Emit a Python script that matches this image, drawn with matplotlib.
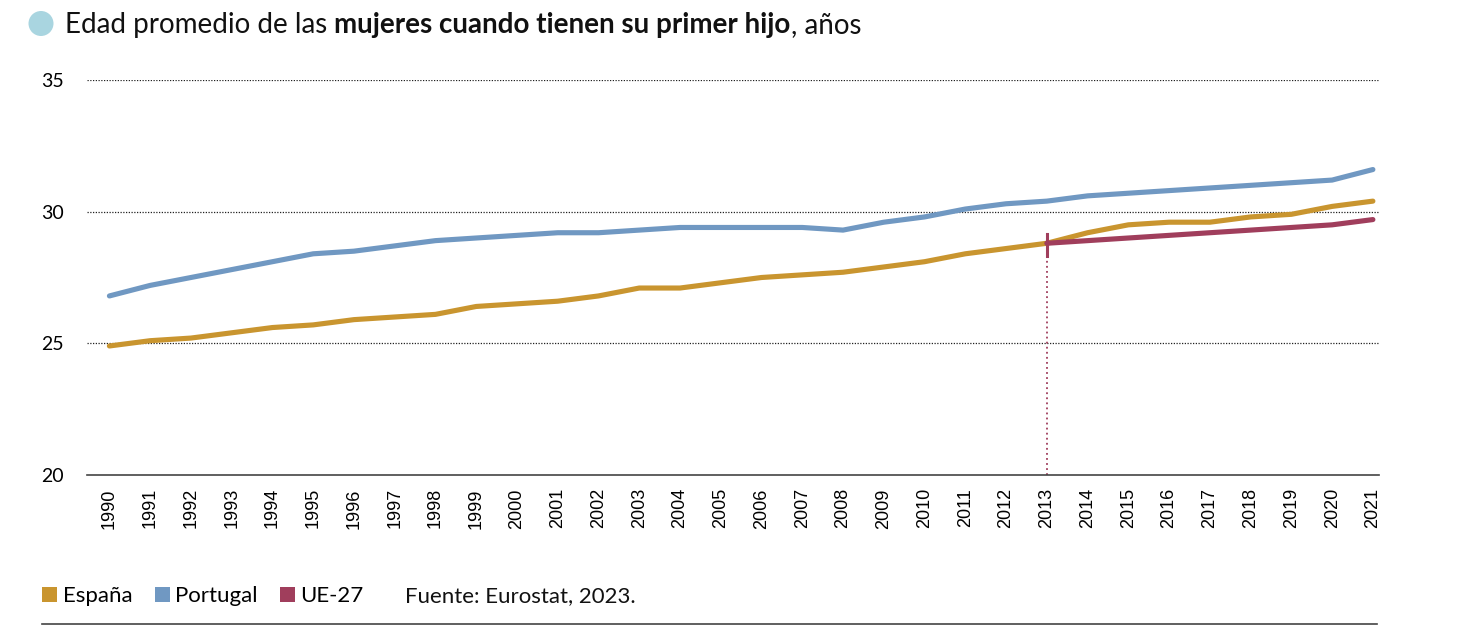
import matplotlib
matplotlib.use("Agg")
import matplotlib.pyplot as plt
from matplotlib.patches import Patch, Ellipse
from matplotlib.lines import Line2D

years = list(range(1990, 2022))
espana = [24.9, 25.1, 25.2, 25.4, 25.6, 25.7, 25.9, 26.0, 26.1, 26.4, 26.5, 26.6, 26.8, 27.1, 27.1, 27.3,
          27.5, 27.6, 27.7, 27.9, 28.1, 28.4, 28.6, 28.8, 29.2, 29.5, 29.6, 29.6, 29.8, 29.9, 30.2, 30.4]
portugal = [26.8, 27.2, 27.5, 27.8, 28.1, 28.4, 28.5, 28.7, 28.9, 29.0, 29.1, 29.2, 29.2, 29.3, 29.4, 29.4,
            29.4, 29.4, 29.3, 29.6, 29.8, 30.1, 30.3, 30.4, 30.6, 30.7, 30.8, 30.9, 31.0, 31.1, 31.2, 31.6]
ue_years = list(range(2013, 2022))
ue27 = [28.8, 28.9, 29.0, 29.1, 29.2, 29.3, 29.4, 29.5, 29.7]
yticks = [20, 25, 30, 35]
series_names = ["España", "Portugal", "UE-27"]
source = "Fuente: Eurostat, 2023."
title_parts = [("Edad promedio de las ", "normal"), ("mujeres cuando tienen su primer hijo", "bold"), (", años", "normal")]

C_ES = "#C9952F"
C_PT = "#7098C2"
C_UE = "#A03E5C"
C_DOT = "#A9D5E0"

W, H = 1461, 629
fig = plt.figure(figsize=(W / 100, H / 100), dpi=100)
ax = fig.add_axes([87 / W, 1 - 475 / H, (1379 - 87) / W, (475 - 80) / H])

ax.set_xlim(1989.45, 2021.15)
ax.set_ylim(20, 35)

for v in yticks[1:]:
    ax.axhline(v, color="#222222", lw=0.9, linestyle=(0, (1, 1.2)), zorder=1)

lw = 3.7
ax.plot(years, portugal, color=C_PT, lw=lw, solid_capstyle="round", zorder=3)
ax.plot(years, espana, color=C_ES, lw=lw, solid_capstyle="round", zorder=3)
ax.plot(ue_years, ue27, color=C_UE, lw=lw, solid_capstyle="round", zorder=4)

# 2013 marker
ax.plot([2013, 2013], [20, 28.3], color=C_UE, lw=1.3, linestyle=(0, (1, 1.8)), zorder=2)
ax.plot([2013, 2013], [28.3, 29.15], color=C_UE, lw=2.2, zorder=5)

for s in ["top", "right", "left"]:
    ax.spines[s].set_visible(False)
ax.spines["bottom"].set_color("#444444")
ax.spines["bottom"].set_linewidth(1.2)

ax.set_yticks(yticks)
ax.set_yticklabels([str(v) for v in yticks], fontsize=14, family="Lato")
ax.tick_params(axis="y", length=0, pad=17)
ax.set_xticks(years)
ax.set_xticklabels([str(y) for y in years], rotation=90, fontsize=13, family="Liberation Sans", va="top")
ax.tick_params(axis="x", length=0, pad=9.5)

# title
fig.patches.append(Ellipse((41 / W, 1 - 23.5 / H), 25 / W, 25 / H, transform=fig.transFigure,
                           facecolor=C_DOT, edgecolor="none"))
fig.canvas.draw()
renderer = fig.canvas.get_renderer()
x = 65
for txt, wt in title_parts:
    t = fig.text(x / W, 1 - 33 / H, txt, fontsize=20, fontweight=wt, family="Lato",
                 ha="left", va="baseline", color="#111111")
    bb = t.get_window_extent(renderer)
    x += bb.width

# legend
handles = [Patch(facecolor=c, edgecolor="none") for c in [C_ES, C_PT, C_UE]]
leg = fig.legend(handles, series_names, loc="center left", bbox_to_anchor=(42 / W, 1 - 596 / H),
                 ncol=3, frameon=False, prop={"family": "Lato", "size": 16},
                 handlelength=0.68, handleheight=0.68, handletextpad=0.25, columnspacing=1.0,
                 borderpad=0, borderaxespad=0)
fig.text(405 / W, 1 - 596 / H, source, fontsize=16, family="Lato", ha="left", va="center", color="#111111")

fig.add_artist(Line2D([42 / W, 1377 / W], [1 - 624 / H, 1 - 624 / H], transform=fig.transFigure,
                      color="#444444", lw=1.2))

fig.savefig("out.png", dpi=100)
